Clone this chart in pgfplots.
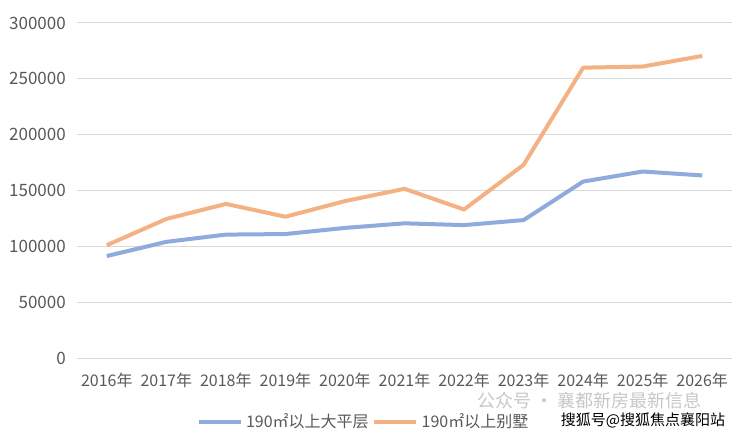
\documentclass[border=0pt]{standalone}
\usepackage{pgfplots}
\pgfplotsset{compat=1.18}
\usepackage{fontspec}
\setmainfont{Noto Sans CJK SC}
\definecolor{sblue}{HTML}{8FAADC}
\definecolor{sorange}{HTML}{F4B183}
\definecolor{txt}{HTML}{595959}
\definecolor{grd}{HTML}{D9D9D9}
\begin{document}
\begin{tikzpicture}
\useasboundingbox (-77bp,-78bp) rectangle (663bp,358bp);
\begin{axis}[
  at={(0,0)}, anchor=south west,
  scale only axis, width=655bp, height=335bp,
  xmin=-0.5, xmax=10.5, ymin=0, ymax=300000,
  xtick={0,...,10},
  xticklabels={2016年,2017年,2018年,2019年,2020年,2021年,2022年,2023年,2024年,2025年,2026年},
  ytick={0,50000,100000,150000,200000,250000,300000},
  scaled y ticks=false,
  /pgf/number format/assume math mode=true,
  yticklabel style={/pgf/number format/fixed, /pgf/number format/1000 sep={},
    font=\fontsize{17bp}{20bp}\selectfont, text=txt, anchor=east, inner sep=0pt, xshift=-11bp},
  xticklabel style={font=\fontsize{16bp}{19bp}\selectfont, text=txt, anchor=center, inner sep=0pt, yshift=-22bp},
  ymajorgrids, grid style={grd, line width=1bp},
  axis line style={draw=none}, major tick style={draw=none},
  legend columns=2,
  legend style={at={(0.437,-0.19)}, anchor=center, draw=none, fill=none,
    font=\fontsize{16bp}{19bp}\selectfont, text=txt,
    nodes={inner sep=1.5bp}, column sep=2bp},
  legend image code/.code={\draw[#1] (0bp,0bp) -- (42bp,0bp);},
  clip=false,
]
\addplot[sblue, line width=4bp, line join=round] coordinates {
 (0,91300) (1,104000) (2,110500) (3,111000) (4,116500) (5,120600)
 (6,119000) (7,123500) (8,158000) (9,167000) (10,163500)};
\addlegendentry{190㎡以上大平层}
\addplot[sorange, line width=4bp, line join=round] coordinates {
 (0,101000) (1,124500) (2,138000) (3,126500) (4,140500) (5,151500)
 (6,133000) (7,173000) (8,260000) (9,261000) (10,270500)};
\addlegendentry{190㎡以上别墅}
\node[text=black!22, font=\fontsize{18bp}{20bp}\selectfont, inner sep=0pt] at (axis description cs:0.783,-0.128) {公众号 · 襄都新房最新信息};
\node[text=black, font=\fontsize{15bp}{17bp}\selectfont, inner sep=1pt, fill=white, fill opacity=0.6, text opacity=1] at (axis description cs:0.864,-0.186) {搜狐号@搜狐焦点襄阳站};
\end{axis}
\end{tikzpicture}
\end{document}
